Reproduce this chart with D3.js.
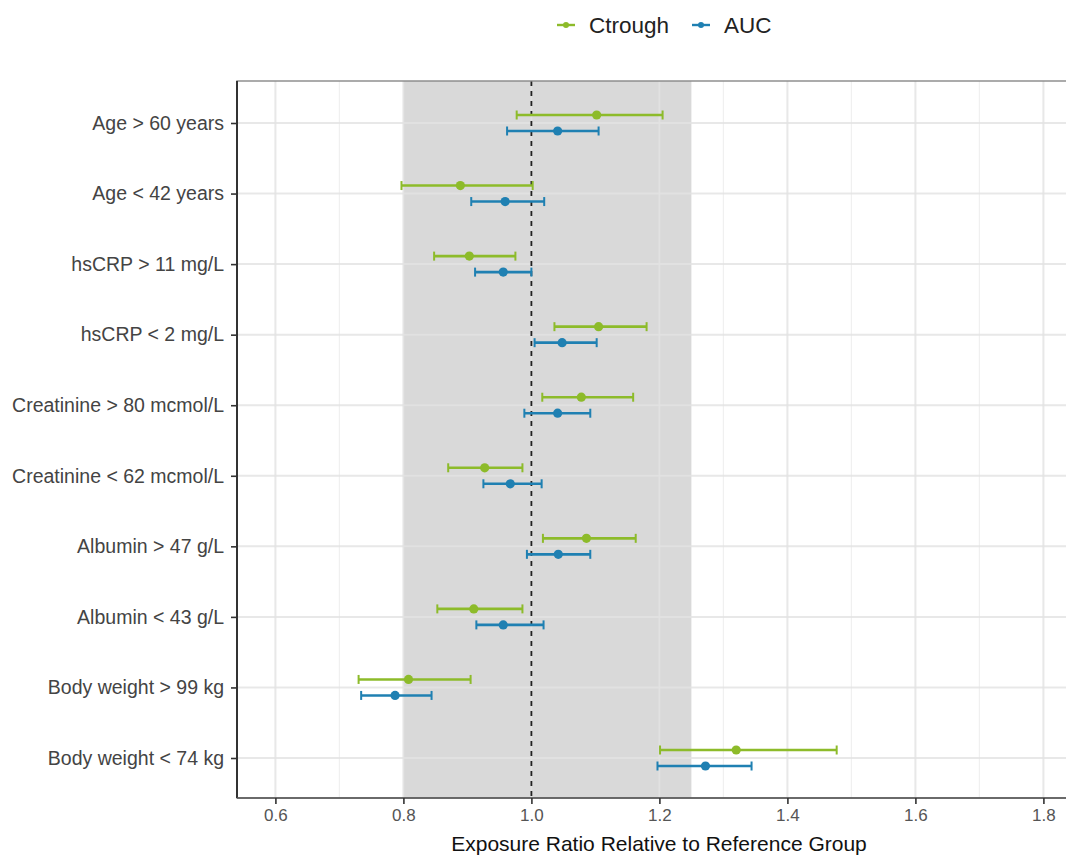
<!DOCTYPE html>
<html><head><meta charset="utf-8">
<script src="https://cdn.jsdelivr.net/npm/d3@7"></script>
<style>body{margin:0;background:#fff;} svg{display:block;font-family:"Liberation Sans",Arial,sans-serif;}</style>
</head><body>
<svg id="c" width="1066" height="856"></svg>
<script>
const categories = ["Age > 60 years","Age < 42 years","hsCRP > 11 mg/L","hsCRP < 2 mg/L","Creatinine > 80 mcmol/L","Creatinine < 62 mcmol/L","Albumin > 47 g/L","Albumin < 43 g/L","Body weight > 99 kg","Body weight < 74 kg"];
const ctroughPoint = [1.102,0.889,0.903,1.105,1.078,0.927,1.086,0.910,0.808,1.320];
const ctroughLow   = [0.977,0.797,0.848,1.036,1.017,0.870,1.018,0.853,0.730,1.201];
const ctroughHigh  = [1.205,1.002,0.975,1.180,1.159,0.986,1.163,0.986,0.905,1.477];
const aucPoint = [1.041,0.959,0.956,1.048,1.041,0.967,1.042,0.956,0.787,1.272];
const aucLow   = [0.962,0.906,0.912,1.005,0.989,0.925,0.993,0.914,0.734,1.197];
const aucHigh  = [1.105,1.020,1.000,1.102,1.092,1.016,1.092,1.019,0.844,1.344];
const xTicks = [0.6,0.8,1.0,1.2,1.4,1.6,1.8];
const xMinor = [0.7,0.9,1.1,1.3,1.5,1.7];
const band = [0.8,1.25];
const refLine = 1.0;
const seriesNames = ["Ctrough","AUC"];
const seriesColors = ["#8dbb2a","#1f80b2"];

const svg = d3.select("#c");
const L=237, R=1069, T=81, B=798;
const x = d3.scaleLinear().domain([0.54,1.84]).range([L,R]);
const y = d3.scalePoint().domain(categories).range([123,758]);

svg.append("rect").attr("x",L).attr("y",T).attr("width",R-L).attr("height",B-T).attr("fill","#fff");
// minor grid
svg.append("g").selectAll("line").data(xMinor).join("line")
  .attr("x1",d=>x(d)).attr("x2",d=>x(d)).attr("y1",T).attr("y2",B)
  .attr("stroke","#f0f0f0").attr("stroke-width",1.2);
// band
svg.append("rect").attr("x",x(band[0])).attr("y",T).attr("width",x(band[1])-x(band[0])).attr("height",B-T).attr("fill","#d9d9d9");
// major grid
svg.append("g").selectAll("line").data(xTicks).join("line")
  .attr("x1",d=>x(d)).attr("x2",d=>x(d)).attr("y1",T).attr("y2",B)
  .attr("stroke","#e2e2e2").attr("stroke-opacity",0.8).attr("stroke-width",2);
svg.append("g").selectAll("line").data(categories).join("line")
  .attr("x1",L).attr("x2",R).attr("y1",d=>y(d)).attr("y2",d=>y(d))
  .attr("stroke","#e2e2e2").attr("stroke-opacity",0.8).attr("stroke-width",2);
// ref line
svg.append("line").attr("x1",x(refLine)).attr("x2",x(refLine)).attr("y1",T).attr("y2",B)
  .attr("stroke","#222").attr("stroke-width",1.8).attr("stroke-dasharray","5,5");

// error bars
const series = [
  {pt:ctroughPoint, lo:ctroughLow, hi:ctroughHigh, off:-8, col:seriesColors[0]},
  {pt:aucPoint, lo:aucLow, hi:aucHigh, off:8, col:seriesColors[1]}
];
series.forEach(s=>{
  const g = svg.append("g");
  categories.forEach((c,i)=>{
    const yy = y(c)+s.off;
    g.append("line").attr("x1",x(s.lo[i])).attr("x2",x(s.hi[i])).attr("y1",yy).attr("y2",yy).attr("stroke",s.col).attr("stroke-width",2.6);
    [s.lo[i],s.hi[i]].forEach(v=>g.append("line").attr("x1",x(v)).attr("x2",x(v)).attr("y1",yy-4.5).attr("y2",yy+4.5).attr("stroke",s.col).attr("stroke-width",2));
    g.append("circle").attr("cx",x(s.pt[i])).attr("cy",yy).attr("r",4.6).attr("fill",s.col);
  });
});

// border
svg.append("rect").attr("x",L).attr("y",T).attr("width",R-L).attr("height",B-T).attr("fill","none").attr("stroke","#888").attr("stroke-width",1.4);
svg.append("line").attr("x1",L).attr("x2",L).attr("y1",T).attr("y2",B).attr("stroke","#333").attr("stroke-width",2);
svg.append("line").attr("x1",L).attr("x2",R).attr("y1",B).attr("y2",B).attr("stroke","#555").attr("stroke-width",1.6);

// axes
const xAxis = svg.append("g").attr("transform",`translate(0,${B})`)
  .call(d3.axisBottom(x).tickValues(xTicks).tickFormat(d3.format(".1f")).tickSize(6).tickPadding(5));
xAxis.select(".domain").remove();
xAxis.selectAll("line").attr("stroke","#333").attr("stroke-width",1.6);
xAxis.selectAll("text").attr("fill","#555").attr("font-size",17).attr("font-family","Liberation Sans, Arial, sans-serif");

const yAxis = svg.append("g").attr("transform",`translate(${L},0)`)
  .call(d3.axisLeft(y).tickSize(6).tickPadding(7));
yAxis.select(".domain").remove();
yAxis.selectAll("line").attr("stroke","#333").attr("stroke-width",1.6);
yAxis.selectAll("text").attr("fill","#444").attr("font-size",19.5).attr("font-family","Liberation Sans, Arial, sans-serif");

svg.append("text").attr("x",659).attr("y",851).attr("text-anchor","middle")
  .attr("font-size",21).attr("fill","#111").text("Exposure Ratio Relative to Reference Group");

// legend
const leg = svg.append("g");
const legX = [557, 692];
seriesNames.forEach((n,i)=>{
  leg.append("line").attr("x1",legX[i]).attr("x2",legX[i]+18).attr("y1",25).attr("y2",25).attr("stroke",seriesColors[i]).attr("stroke-width",2.4);
  leg.append("circle").attr("cx",legX[i]+9).attr("cy",25).attr("r",3).attr("fill",seriesColors[i]);
  leg.append("text").attr("x",legX[i]+32).attr("y",33).attr("font-size",22.5).attr("fill","#222").text(n);
});
</script>
</body></html>
